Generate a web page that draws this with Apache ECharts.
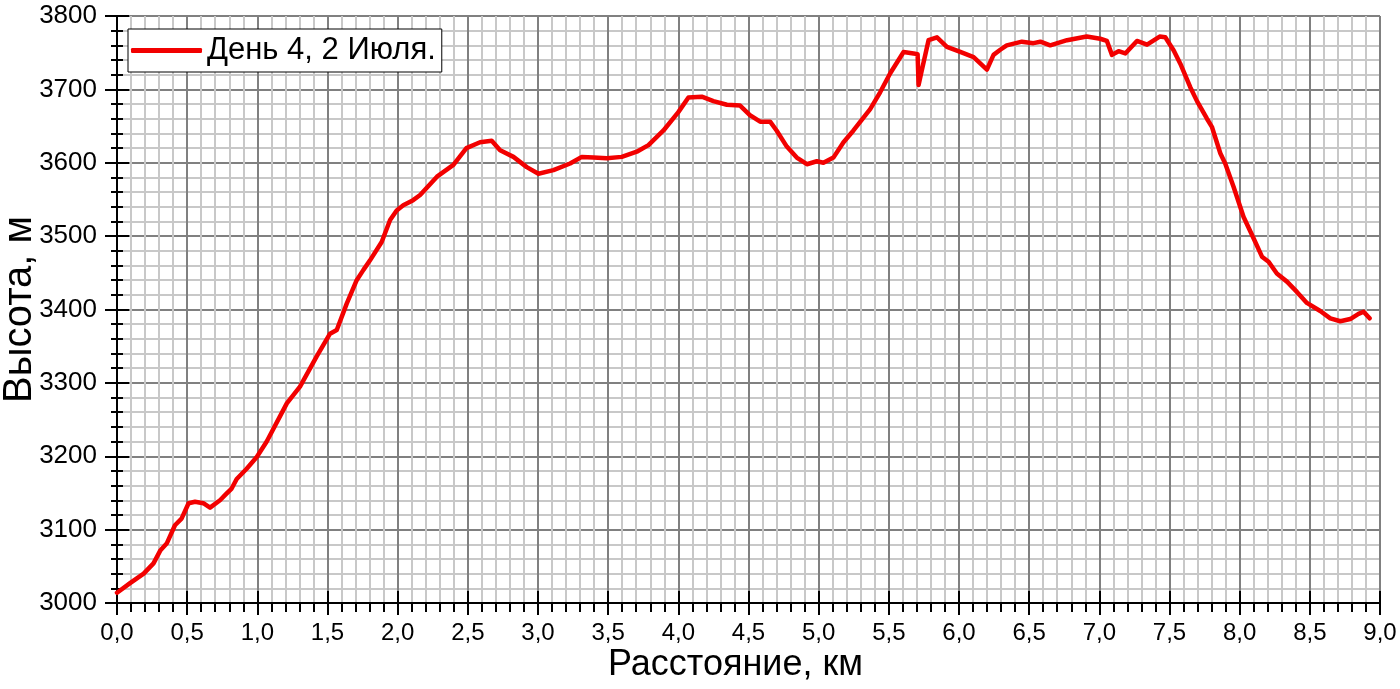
<!DOCTYPE html>
<html>
<head>
<meta charset="utf-8">
<script src="https://cdn.jsdelivr.net/npm/echarts@6/dist/echarts.min.js"></script>
<style>
html,body{margin:0;padding:0;background:#fff;}
#chart{width:1400px;height:689px;}
</style>
</head>
<body>
<div id="chart"></div>
<script>
const seriesName = 'День 4, 2 Июля.';
const xAxisName = 'Расстояние, км';
const yAxisName = 'Высота, м';
const distanceKm = [0.0,0.093,0.19,0.26,0.31,0.354,0.413,0.46,0.51,0.556,0.615,0.663,0.734,0.78,0.817,0.853,0.924,0.996,1.067,1.21,1.304,1.423,1.518,1.566,1.637,1.708,1.756,1.803,1.886,1.946,1.993,2.04,2.11,2.16,2.28,2.397,2.49,2.587,2.67,2.73,2.825,2.92,3.003,3.11,3.229,3.312,3.395,3.49,3.597,3.704,3.787,3.894,4.0,4.072,4.167,4.25,4.346,4.44,4.51,4.583,4.654,4.70,4.773,4.844,4.916,4.987,5.034,5.105,5.177,5.248,5.367,5.438,5.51,5.605,5.676,5.705,5.712,5.735,5.783,5.843,5.914,6.009,6.104,6.199,6.246,6.294,6.34,6.448,6.53,6.58,6.65,6.77,6.91,7.006,7.054,7.09,7.137,7.185,7.268,7.34,7.43,7.47,7.53,7.577,7.648,7.696,7.767,7.802,7.862,7.897,7.957,8.028,8.099,8.159,8.206,8.265,8.337,8.408,8.479,8.574,8.646,8.717,8.788,8.847,8.883,8.926];
const elevationM = [3014,3027,3040,3054,3072,3081,3106,3115,3136,3138,3136,3130,3140,3149,3156,3169,3183,3199,3220,3272,3295,3336,3367,3372,3408,3440,3454,3467,3492,3522,3535,3542,3549,3556,3581,3597,3620,3628,3630,3617,3608,3594,3585,3590,3599,3608,3607,3606,3608,3615,3624,3644,3669,3689,3690,3684,3679,3678,3665,3656,3656,3644,3622,3607,3598,3602,3600,3607,3628,3644,3673,3696,3722,3751,3749,3748,3706,3726,3767,3771,3758,3751,3744,3727,3747,3754,3760,3765,3763,3765,3760,3767,3772,3769,3766,3747,3752,3749,3766,3761,3772,3771,3753,3735,3703,3684,3660,3649,3613,3599,3567,3526,3497,3472,3465,3449,3438,3424,3409,3398,3388,3384,3387,3394,3397,3388];
const xMin = 0, xMax = 9, xStep = 0.5;
const yMin = 3000, yMax = 3800, yStep = 100;

const FONT = '"Liberation Sans", Arial, sans-serif';
const chart = echarts.init(document.getElementById('chart'), null, {renderer: 'canvas'});
const points = distanceKm.map((d, i) => [d, elevationM[i]]);
const fmtX = v => v.toFixed(1).replace('.', ',');
const fmtY = v => String(Math.round(v));

const baseX = {type: 'value', min: xMin, max: xMax, interval: xStep, position: 'bottom'};
const baseY = {type: 'value', min: yMin, max: yMax, interval: yStep, position: 'left'};

chart.setOption({
  animation: false,
  backgroundColor: '#ffffff',
  grid: {left: 117, right: 20, top: 16, bottom: 86, containLabel: false, outerBoundsMode: 'none'},
  legend: {
    data: [{name: seriesName, icon: 'roundRect'}],
    left: 128, top: 29,
    orient: 'vertical',
    backgroundColor: '#ffffff',
    borderColor: '#000000',
    borderWidth: 1,
    borderRadius: 0,
    padding: [6, 6, 6, 3],
    itemWidth: 71, itemHeight: 5, itemGap: 0,
    textStyle: {fontFamily: FONT, fontSize: 31, color: '#000', padding: [0, 0, 0, 0]}
  },
  xAxis: [
    Object.assign({}, baseX, {
      name: xAxisName, nameLocation: 'middle', nameGap: 44, nameMoveOverlap: false,
      nameTextStyle: {fontFamily: FONT, fontSize: 36, color: '#000', padding: [0, 26, 0, 0]},
      axisLine: {show: true, onZero: false, lineStyle: {color: '#000', width: 2}},
      axisTick: {show: true, inside: false, length: 12, lineStyle: {color: '#000', width: 2}},
      minorTick: {show: true, splitNumber: 5, length: 9, lineStyle: {color: '#000', width: 2}},
      axisLabel: {formatter: fmtX, fontFamily: FONT, fontSize: 24, color: '#000', margin: 18},
      splitLine: {show: true, lineStyle: {color: '#808080', width: 2}},
      minorSplitLine: {show: true, lineStyle: {color: '#c8c8c8', width: 2}}
    }),
    Object.assign({}, baseX, {
      axisLine: {show: false, onZero: false},
      axisTick: {show: true, inside: true, length: 12, lineStyle: {color: '#000', width: 2}},
      minorTick: {show: false},
      axisLabel: {show: false},
      splitLine: {show: false}
    })
  ],
  yAxis: [
    Object.assign({}, baseY, {
      name: yAxisName, nameLocation: 'middle', nameGap: 77, nameMoveOverlap: false,
      nameTextStyle: {fontFamily: FONT, fontSize: 40, color: '#000'},
      axisLine: {show: true, onZero: false, lineStyle: {color: '#000', width: 2}},
      axisTick: {show: true, inside: false, length: 12, lineStyle: {color: '#000', width: 2}},
      minorTick: {show: true, splitNumber: 5, length: 6, lineStyle: {color: '#000', width: 2}},
      axisLabel: {formatter: fmtY, fontFamily: FONT, fontSize: 26, color: '#000', margin: 20},
      splitLine: {show: true, lineStyle: {color: '#808080', width: 2}},
      minorSplitLine: {show: true, lineStyle: {color: '#c8c8c8', width: 2}}
    }),
    Object.assign({}, baseY, {
      axisLine: {show: false, onZero: false},
      axisTick: {show: true, inside: true, length: 12, lineStyle: {color: '#000', width: 2}},
      minorTick: {show: true, splitNumber: 5, length: 6, lineStyle: {color: '#000', width: 2}},
      axisLabel: {show: false},
      splitLine: {show: false}
    })
  ],
  series: [{
    name: seriesName,
    type: 'line',
    data: points,
    xAxisIndex: 0, yAxisIndex: 0,
    showSymbol: false,
    symbol: 'none',
    smooth: false,
    lineStyle: {color: '#f20000', width: 4.5, join: 'round', cap: 'round'},
    itemStyle: {color: '#f20000'}
  }]
});
</script>
</body>
</html>
